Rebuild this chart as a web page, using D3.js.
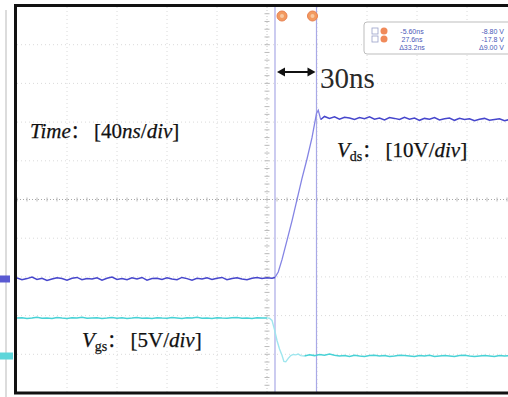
<!DOCTYPE html>
<html><head><meta charset="utf-8">
<script src="https://cdn.jsdelivr.net/npm/d3@7"></script>
<style>html,body{margin:0;padding:0;background:#fff;overflow:hidden}</style>
</head><body><svg id="c" width="508" height="397"></svg>
<script>
// ---- data (time in ns, voltages in V) ----
const sampleStep = 4;
const vdsLowStart = -212;
const vdsLow = [0.3,-0.2,0.1,0.5,-0.1,0.2,-0.4,0.0,0.3,0.1,-0.3,0.2,0.4,-0.2,0.1,0.0,0.3,-0.3,0.2,0.5,-0.1,0.1,-0.2,0.3,0.0,0.4,-0.3,0.1,0.2,-0.1,0.3,0.0,-0.2,0.4,0.1,-0.3,0.2,0.0,0.3,-0.1,0.2,0.4,-0.2,0.1,0.3,0.0,-0.2,0.2,0.4,0.1,0.3,0.2];
const vdsRampT = [-5.6,-3,0,4,8,12,16,20,24,27.6,29,31];
const vdsRampV = [0.4,1.8,5,10,15,20.5,26,31,36.5,42.8,43.6,41.2];
const vdsHighStart = 34;
const vdsHigh = [42.0,41.5,41.9,41.3,41.8,41.6,41.2,41.7,41.4,41.9,41.3,41.6,41.1,41.7,41.5,41.2,41.8,41.3,41.6,41.0,41.5,41.3,41.7,41.1,41.4,41.6,41.0,41.5,41.2,41.4,40.9,41.3,41.5,41.0,41.2,41.4,40.9,41.2,41.0];

const vgsHighStart = -212;
const vgsHigh = [4.9,4.95,4.85,4.9,5.0,4.88,4.92,4.85,4.97,4.9,4.86,4.94,4.9,5.0,4.87,4.92,4.95,4.85,4.9,4.98,4.88,4.93,4.86,4.9,4.96,4.89,4.92,4.85,4.95,4.9,4.87,4.97,4.91,4.86,4.94,4.9,4.99,4.88,4.92,4.86,4.95,4.9,4.87,4.93,4.96,4.89,4.91,4.85,4.94,4.9,4.92];
const vgsEdgeT = [-12,-10,-8,-6,-4,-2,0,1.5,3,5,7,9,11,13,15,18];
const vgsEdgeV = [4.92,4.88,4.6,3.4,2.0,0.9,0.1,-0.7,-0.75,-0.3,0.05,0.2,0.15,0.25,0.05,0.0];
const vgsLowStart = 18;
const vgsLow = [0.0,0.15,0.05,0.2,0.1,0.25,0.1,0.0,0.05,-0.05,0.1,0.0,-0.05,0.05,0.1,0.0,0.05,-0.05,0.0,0.1,0.05,0.0,-0.05,0.05,0.0,0.1,-0.05,0.0,0.05,0.0,-0.05,0.05,0.1,0.0,-0.05,0.0,0.05,0.0,-0.05,0.05,0.0,0.05,0.0];

const cursorTimes = [-5.6, 27.6];
const legendRows = [["-5.60ns","-8.80 V"],["27.6ns","-17.8 V"],["\u039433.2ns","\u03949.00 V"]];
const gridDivs = [-4,-3,-2,-1,1,2,3,4];

// ---- scales ----
const L = 17, T = 7, B = 392, R = 508;
const x = d3.scaleLinear().domain([-212, 188]).range([17, 517]);
const xdiv = d3.scaleLinear().domain([-5, 5]).range([17, 517]);
const ydiv = d3.scaleLinear().domain([-5, 5]).range([393, 6]);
const vdsOff = -2.054, vgsOff = -4.044;
const yVds = d3.scaleLinear().domain([(-5 - vdsOff) * 10, (5 - vdsOff) * 10]).range([393, 6]);
const yVgs = d3.scaleLinear().domain([(-5 - vgsOff) * 5, (5 - vgsOff) * 5]).range([393, 6]);

const svg = d3.select("#c");
svg.append("defs").append("clipPath").attr("id","clip")
  .append("rect").attr("x",L).attr("y",T).attr("width",R-L).attr("height",B-T);

// faint left strip
svg.append("line").attr("x1",6).attr("x2",6).attr("y1",10).attr("y2",397)
  .attr("stroke","#dcdcdc").attr("stroke-width",2);

const g = svg.append("g").attr("clip-path","url(#clip)");

// grid
g.selectAll(".vg").data(gridDivs).join("line")
  .attr("x1",d=>xdiv(d)).attr("x2",d=>xdiv(d)).attr("y1",T).attr("y2",B)
  .attr("stroke","#dadada").attr("stroke-dasharray","1,3");
g.selectAll(".hg").data(gridDivs).join("line")
  .attr("y1",d=>ydiv(d)).attr("y2",d=>ydiv(d)).attr("x1",L).attr("x2",R)
  .attr("stroke","#dadada").attr("stroke-dasharray","1,3");
// centre axes with minor ticks
g.append("line").attr("x1",L).attr("x2",R).attr("y1",ydiv(0)).attr("y2",ydiv(0))
  .attr("stroke","#a8a8a8").attr("stroke-dasharray","1,2");
g.append("line").attr("y1",T).attr("y2",B).attr("x1",xdiv(0)).attr("x2",xdiv(0))
  .attr("stroke","#c8c8c8").attr("stroke-dasharray","1,2");
const minorX = d3.range(-25, 26).map(i => i / 5);
const minorY = d3.range(-25, 26).map(i => i / 5);
g.selectAll(".mx").data(minorX).join("line")
  .attr("x1",d=>xdiv(d)).attr("x2",d=>xdiv(d)).attr("y1",ydiv(0)-2).attr("y2",ydiv(0)+2)
  .attr("stroke","#bbb");
g.selectAll(".my").data(minorY).join("line")
  .attr("y1",d=>ydiv(d)).attr("y2",d=>ydiv(d)).attr("x1",xdiv(0)-2.5).attr("x2",xdiv(0)+2.5)
  .attr("stroke","#bbb");

// cursors
g.selectAll(".cur").data(cursorTimes).join("line")
  .attr("x1",d=>x(d)).attr("x2",d=>x(d)).attr("y1",T).attr("y2",B)
  .attr("stroke","#a9a9e6").attr("stroke-width",1.2);

// traces
const toPts = (start, arr) => arr.map((v,i)=>[start + i*sampleStep, v]);
const line = ys => d3.line().x(d=>x(d[0])).y(d=>ys(d[1]));
const vgsH = toPts(vgsHighStart, vgsHigh), vgsL = toPts(vgsLowStart, vgsLow);
const vgsE = vgsEdgeT.map((t,i)=>[t, vgsEdgeV[i]]);
g.append("path").datum(vgsE).attr("d",line(yVgs)).attr("fill","none").attr("stroke","#9fe6ee").attr("stroke-width",1.4);
g.append("path").datum(vgsH).attr("d",line(yVgs)).attr("fill","none").attr("stroke","#48d2d6").attr("stroke-width",1.5);
g.append("path").datum(vgsL).attr("d",line(yVgs)).attr("fill","none").attr("stroke","#48d2d6").attr("stroke-width",1.5);

const vdsL = toPts(vdsLowStart, vdsLow), vdsH = toPts(vdsHighStart, vdsHigh);
const vdsR = vdsRampT.map((t,i)=>[t, vdsRampV[i]]);
g.append("path").datum(vdsR).attr("d",line(yVds)).attr("fill","none").attr("stroke","#8484e4").attr("stroke-width",1.3);
g.append("path").datum(vdsL.concat([vdsR[0]])).attr("d",line(yVds)).attr("fill","none").attr("stroke","#4646cc").attr("stroke-width",1.5);
g.append("path").datum([vdsR[vdsR.length-1]].concat(vdsH)).attr("d",line(yVds)).attr("fill","none").attr("stroke","#4646cc").attr("stroke-width",1.5);

// channel markers
svg.append("rect").attr("x",0).attr("y",yVds(0)-3.5).attr("width",10).attr("height",7).attr("fill","#5a5ad2");
svg.append("rect").attr("x",0).attr("y",yVgs(0)-3.5).attr("width",13).attr("height",7).attr("fill","#5ed6da");

// cursor markers at top
const cm = svg.selectAll(".cm").data(cursorTimes).join("g")
  .attr("transform",(d,i)=>`translate(${x(d)+ (i===0?7:-4)},16)`);
cm.append("circle").attr("r",5).attr("fill","#f29a60").attr("stroke","#e88050");
cm.append("circle").attr("r",2).attr("fill","#f8c8a2");

// frame
svg.append("path").attr("d",`M${L-1.5},394 V${T-1.5} H${R}`).attr("fill","none").attr("stroke","#111").attr("stroke-width",3);
svg.append("line").attr("x1",L-3).attr("x2",R).attr("y1",B+1).attr("y2",B+1).attr("stroke","#111").attr("stroke-width",3);

// arrow 30ns
const ay = 72, ax1 = x(cursorTimes[0]) + 2, ax2 = x(cursorTimes[1]) - 1;
svg.append("line").attr("x1",ax1+5).attr("x2",ax2-5).attr("y1",ay).attr("y2",ay).attr("stroke","#111").attr("stroke-width",2);
svg.append("path").attr("d",`M${ax1},${ay} l8,-4.5 v9 Z`).attr("fill","#111");
svg.append("path").attr("d",`M${ax2},${ay} l-8,-4.5 v9 Z`).attr("fill","#111");
svg.append("text").attr("x",320).attr("y",88).attr("font-family","Liberation Serif, serif")
  .attr("font-size",29).attr("fill","#2a2a2a").text("30ns");

// labels
const serif = "Liberation Serif, 'Noto Sans CJK SC', serif";
function label(xp, yp, parts){
  const t = svg.append("text").attr("x",xp).attr("y",yp).attr("font-family",serif).attr("font-size",21)
    .attr("fill","#111").attr("stroke","#111").attr("stroke-width",0.25);
  parts.forEach(p=>{
    const s = t.append("tspan").text(p.t);
    if(p.i) s.attr("font-style","italic");
    if(p.sub) s.attr("font-size",14).attr("dy",4);
    if(p.up) s.attr("dy",-4);
    if(p.cjk) s.attr("font-family","'Noto Sans CJK SC', sans-serif").attr("font-size",18);
  });
}
label(30, 138, [{t:"Time",i:1},{t:"：",cjk:1},{t:"  [40"},{t:"ns",i:1},{t:"/"},{t:"div",i:1},{t:"]"}]);
label(337, 157, [{t:"V",i:1},{t:"ds",sub:1},{t:"：",cjk:1,up:1},{t:" [10V/"},{t:"div",i:1},{t:"]"}]);
label(82, 347, [{t:"V",i:1},{t:"gs",sub:1},{t:"：",cjk:1,up:1},{t:"  [5V/"},{t:"div",i:1},{t:"]"}]);

// measurement legend
const lg = svg.append("g");
lg.append("rect").attr("x",364).attr("y",22).attr("width",150).attr("height",32).attr("rx",3)
  .attr("fill","#fff").attr("stroke","#bdbdbd");
legendRows.forEach((r,i)=>{
  const yy = 31 + i*8;
  if(i<2){
    lg.append("rect").attr("x",372).attr("y",yy-3).attr("width",6).attr("height",6).attr("fill","none").attr("stroke","#9aa0c8").attr("stroke-width",0.8);
    lg.append("circle").attr("cx",384).attr("cy",yy).attr("r",3.5).attr("fill","#f08a5a");
  }
  lg.append("text").attr("x",412).attr("y",yy+2.5).attr("text-anchor","middle").attr("font-family","Liberation Sans, sans-serif")
    .attr("font-size",7).attr("fill","#4a58b8").text(r[0]);
  lg.append("text").attr("x",504).attr("y",yy+2.5).attr("text-anchor","end").attr("font-family","Liberation Sans, sans-serif")
    .attr("font-size",7).attr("fill","#4a58b8").text(r[1]);
});
</script></body></html>
